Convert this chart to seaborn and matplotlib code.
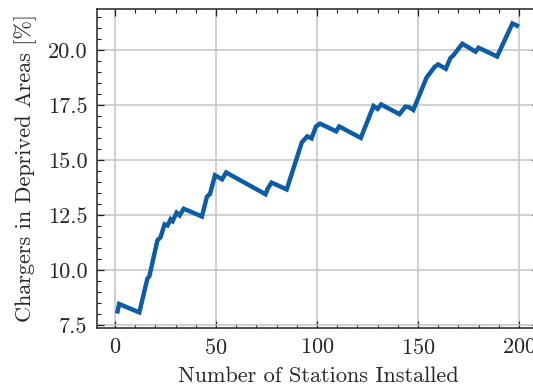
import matplotlib
matplotlib.use("Agg")
import matplotlib.pyplot as plt
from matplotlib.ticker import MultipleLocator
import numpy as np
import pandas as pd
import seaborn as sns

# Share of chargers placed in deprived areas as stations are added
stations = [1, 2, 12, 16, 17, 21, 22.5, 24.5, 26, 27.5, 28.5, 30.5, 32, 34,
            43, 45.5, 47, 49.5, 53, 55, 74.5, 75.5, 77.5, 85, 92.5, 95.2,
            97.3, 99.5, 101.5, 109.5, 111, 121.7, 128, 130, 131.8, 140.8,
            143.8, 145.5, 147.7, 154.3, 156, 158.2, 160, 163.8, 166, 167.5,
            172, 178.5, 180, 189.2, 196.8, 200]
deprived_pct = [8.02, 8.45, 8.07, 9.60, 9.72, 11.35, 11.48, 12.07, 12.02,
                12.30, 12.22, 12.60, 12.48, 12.78, 12.43, 13.33, 13.45, 14.30,
                14.12, 14.43, 13.44, 13.68, 13.97, 13.66, 15.80, 16.07, 15.98,
                16.52, 16.65, 16.30, 16.52, 16.00, 17.45, 17.32, 17.52, 17.08,
                17.42, 17.40, 17.27, 18.75, 18.95, 19.22, 19.34, 19.14, 19.62,
                19.75, 20.28, 19.92, 20.10, 19.70, 21.20, 21.06]

x_ticks = [0, 50, 100, 150, 200]
y_ticks = [7.5, 10.0, 12.5, 15.0, 17.5, 20.0]

df = pd.DataFrame({"stations": stations, "pct": deprived_pct})

sns.set_theme(style="whitegrid")
plt.rcParams.update({
    "font.family": "serif",
    "font.serif": ["cmr10", "DejaVu Serif"],
    "mathtext.fontset": "cm",
    "axes.formatter.use_mathtext": True,
    "axes.unicode_minus": False,
    "font.size": 16,
    "axes.labelsize": 16,
    "xtick.labelsize": 16,
    "ytick.labelsize": 16,
})

fig = plt.figure(figsize=(5.33, 3.88), dpi=100)
ax = fig.add_axes([97 / 533, 60 / 388, 442 / 533, 319 / 388])

sns.lineplot(data=df, x="stations", y="pct", ax=ax, color="#0C5DA5",
             linewidth=3.2, solid_joinstyle="miter", solid_capstyle="butt")

ax.set_xticks(x_ticks)
ax.set_yticks(y_ticks)
ax.set_yticklabels([f"{v:.1f}" for v in y_ticks])
ax.xaxis.set_minor_locator(MultipleLocator(10))
ax.yaxis.set_minor_locator(MultipleLocator(0.5))

ax.grid(True, which="major", color="#c4c4c4", linewidth=1.1, linestyle="-")
ax.grid(False, which="minor")
ax.set_axisbelow(True)

for side in ["left", "right", "top", "bottom"]:
    ax.spines[side].set_color("#333333")
    ax.spines[side].set_linewidth(1.2)

ax.tick_params(which="both", direction="in", top=True, right=True,
               bottom=True, left=True, color="#222222")
ax.tick_params(which="major", length=5, width=0.9, pad=7)
ax.tick_params(which="minor", length=2.6, width=0.8)

ax.set_xlabel("Number of Stations Installed", labelpad=6)
ax.set_ylabel("Chargers in Deprived Areas [%]", labelpad=8)

fig.savefig("out.png", dpi=100)
